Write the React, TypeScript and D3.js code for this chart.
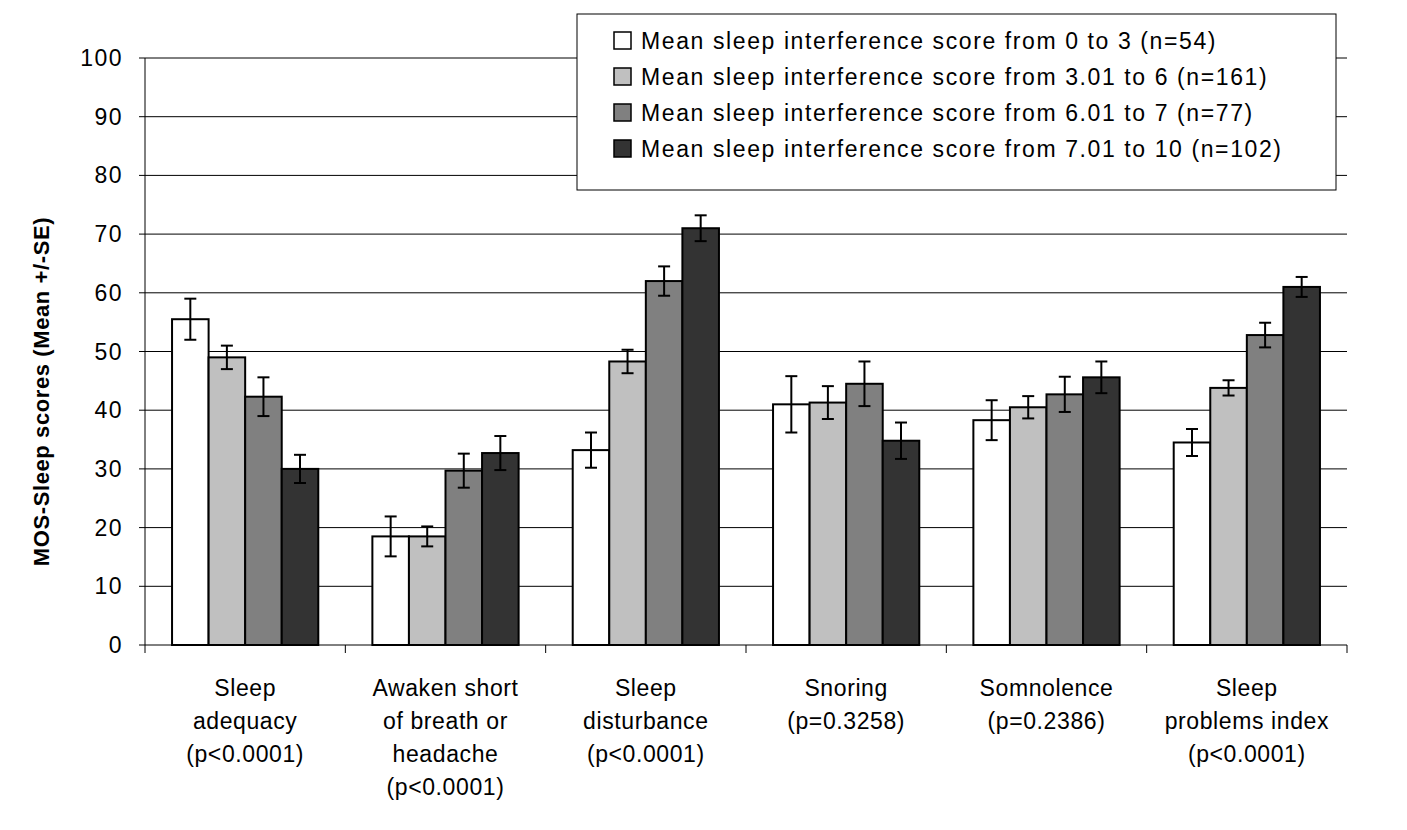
import * as d3 from 'd3';

const categories = [
  ['Sleep', 'adequacy', '(p<0.0001)'],
  ['Awaken short', 'of breath or', 'headache', '(p<0.0001)'],
  ['Sleep', 'disturbance', '(p<0.0001)'],
  ['Snoring', '(p=0.3258)'],
  ['Somnolence', '(p=0.2386)'],
  ['Sleep', 'problems index', '(p<0.0001)'],
];
const seriesNames = [
  'Mean sleep interference score from 0 to 3 (n=54)',
  'Mean sleep interference score from 3.01 to 6 (n=161)',
  'Mean sleep interference score from 6.01 to 7 (n=77)',
  'Mean sleep interference score from 7.01 to 10 (n=102)',
];
const seriesColors = ['#ffffff', '#c0c0c0', '#808080', '#333333'];
const means = [
  [55.5, 18.5, 33.2, 41.0, 38.3, 34.5],
  [49.0, 18.5, 48.3, 41.3, 40.5, 43.8],
  [42.3, 29.7, 62.0, 44.5, 42.7, 52.8],
  [30.0, 32.7, 71.0, 34.8, 45.6, 61.0],
];
const errors = [
  [3.5, 3.4, 3.0, 4.8, 3.4, 2.3],
  [2.0, 1.7, 2.0, 2.8, 1.9, 1.3],
  [3.3, 2.9, 2.5, 3.8, 3.0, 2.1],
  [2.4, 2.9, 2.2, 3.1, 2.7, 1.7],
];
const yTicks = d3.range(0, 101, 10);

export default function App() {
  const left = 145, right = 1347, top = 58, bottom = 645;
  const y = d3.scaleLinear().domain([0, 100]).range([bottom, top]);
  const x0 = d3.scaleBand<number>().domain(d3.range(categories.length)).range([left, right]).paddingInner(0.27).paddingOuter(0.135);
  const x1 = d3.scaleBand<number>().domain(d3.range(4)).range([0, x0.bandwidth()]);
  const step = (right - left) / categories.length;
  const font = 'Liberation Sans, Arial, sans-serif';
  return (
    <svg width={1407} height={830} style={{ position: 'absolute', left: 0, top: 0, background: '#fff' }} fontFamily={font}>
      {yTicks.map(t => (
        <g key={t}>
          {t > 0 && <line x1={left} x2={right} y1={y(t)} y2={y(t)} stroke="#000" strokeWidth={1} />}
          <line x1={left - 6} x2={left} y1={y(t)} y2={y(t)} stroke="#000" />
          <text x={left - 22} y={y(t) + 8} textAnchor="end" fontSize={23} letterSpacing={1.5}>{t}</text>
        </g>
      ))}
      <line x1={left} x2={left} y1={top} y2={bottom} stroke="#000" />
      <line x1={left} x2={right} y1={bottom} y2={bottom} stroke="#000" />
      {d3.range(categories.length + 1).map(i => (
        <line key={i} x1={left + i * step} x2={left + i * step} y1={bottom} y2={bottom + 8} stroke="#000" />
      ))}
      {means.map((s, si) => s.map((v, ci) => {
        const bx = x0(ci)! + x1(si)!;
        const cx = bx + x1.bandwidth() / 2;
        const e = errors[si][ci];
        return (
          <g key={`${si}-${ci}`}>
            <rect x={bx} y={y(v)} width={x1.bandwidth()} height={bottom - y(v)} fill={seriesColors[si]} stroke="#000" strokeWidth={2} />
            <line x1={cx} x2={cx} y1={y(v + e)} y2={y(v - e)} stroke="#000" strokeWidth={2} />
            <line x1={cx - 6} x2={cx + 6} y1={y(v + e)} y2={y(v + e)} stroke="#000" strokeWidth={2} />
            <line x1={cx - 6} x2={cx + 6} y1={y(v - e)} y2={y(v - e)} stroke="#000" strokeWidth={2} />
          </g>
        );
      }))}
      {categories.map((lines, ci) => (
        <text key={ci} x={left + (ci + 0.5) * step} textAnchor="middle" fontSize={23} letterSpacing={0.6}>
          {lines.map((l, li) => <tspan key={li} x={left + (ci + 0.5) * step} y={696 + li * 33}>{l}</tspan>)}
        </text>
      ))}
      <text transform={`translate(49, ${(top + bottom) / 2 + 40}) rotate(-90)`} textAnchor="middle" fontSize={22} fontWeight="bold" letterSpacing={0.6}>MOS-Sleep scores (Mean +/-SE)</text>
      <rect x={577} y={14} width={759} height={176} fill="#fff" stroke="#000" />
      {seriesNames.map((n, i) => (
        <g key={i}>
          <rect x={614} y={32 + i * 36} width={17} height={17} fill={seriesColors[i]} stroke="#000" strokeWidth={1.5} />
          <text x={641} y={49 + i * 36} fontSize={23} letterSpacing={1.6}>{n}</text>
        </g>
      ))}
    </svg>
  );
}
